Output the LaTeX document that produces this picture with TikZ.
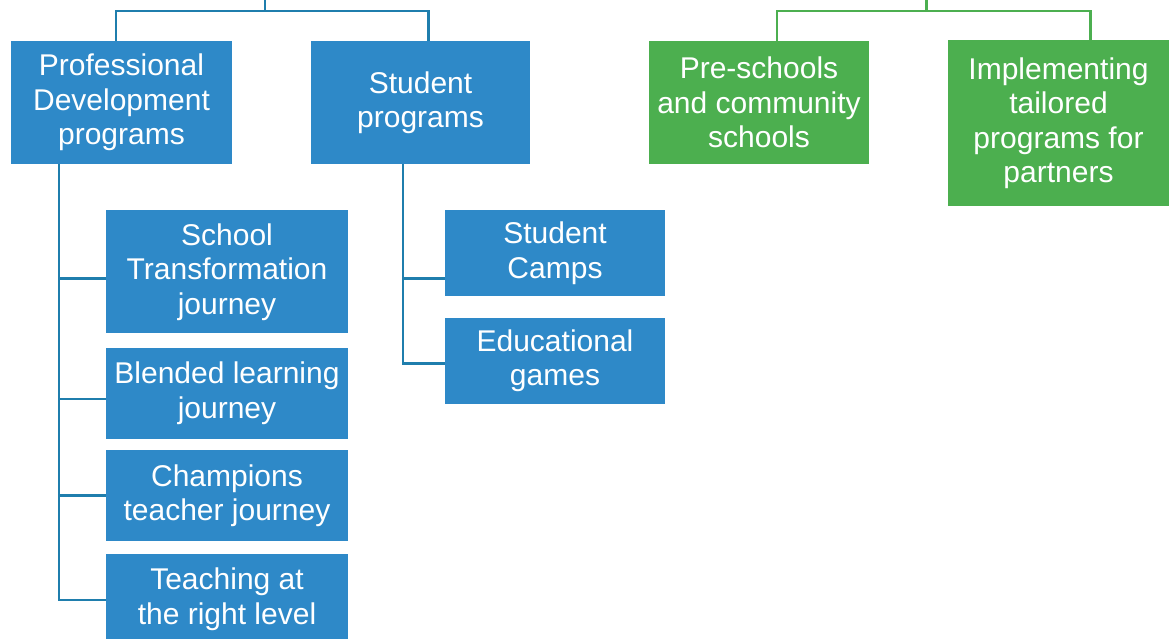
\documentclass[tikz,border=0pt]{standalone}
\usepackage{fontspec}
\setmainfont{Liberation Sans}
\usetikzlibrary{positioning}
\definecolor{boxblue}{HTML}{2E89C8}
\definecolor{lineblue}{HTML}{1F7EAD}
\definecolor{boxgreen}{HTML}{4CAF4F}
\definecolor{linegreen}{HTML}{4CAF50}

\begin{document}
\begin{tikzpicture}[x=1pt, y=1pt,
		basic/.style      = {rectangle, inner sep=0pt, align=center, text=white, font=\fontsize{30}{34.5}\selectfont},
		blue box/.style   = {basic, fill=boxblue, minimum width=221pt, minimum height=123pt},
		green box/.style  = {basic, fill=boxgreen, minimum width=221pt, minimum height=123pt},
		kid box/.style    = {basic, fill=boxblue, minimum height=91pt},
		blue link/.style  = {draw=lineblue, line width=2.6pt},
		green link/.style = {draw=linegreen, line width=2.6pt}]
		
		\useasboundingbox (0,0) rectangle (1169,-638);
		
		% the first level, one row of boxes
		\node[blue box] (pd) at (121.5,-102.5) {Professional\\Development\\programs};
		\node[blue box, minimum width=219pt] (sp) at (420.5,-102.5) {Student\\programs};
		\node[green box, minimum width=220pt] (ps) at (759,-102.5) {Pre-schools\\and community\\schools};
		\node[green box, minimum height=166pt] (ip) at (1058.5,-123) {Implementing\\tailored\\programs for\\partners};
		
		% the second level, relatively positioned nodes
		\begin{scope}[every node/.style={kid box, minimum width=242pt}]
			\node[minimum height=123pt, anchor=north west] (st) at ([shift={(95,-46)}]pd.south west) {School\\Transformation\\journey};
			\node[below=14pt of st] (bl) {Blended learning\\journey};
			\node[below=11pt of bl] (ch) {Champions\\teacher journey};
			\node[below=12pt of ch] (tr) {Teaching at\\the right level};
		\end{scope}
		
		% the second level, relatively positioned nodes
		\begin{scope}[every node/.style={kid box, minimum width=220pt, minimum height=86pt}]
			\node[anchor=north west] (sc) at ([shift={(134,-46)}]sp.south west) {Student\\Camps};
			\node[below=21pt of sc] (eg) {Educational\\games};
		\end{scope}
		
		% forks coming in from above
		\coordinate (blue top) at (265,0);
		\coordinate (blue fork) at (265,-11);
		\coordinate (green top) at (926.5,0);
		\coordinate (green fork) at (926.5,-11);
		
		\draw[blue link] (blue top) -- (blue fork);
		\draw[blue link] (blue fork) -| ([xshift=-5.5pt]pd.north);
		\draw[blue link] (blue fork) -| ([xshift=8pt]sp.north);
		
		\draw[green link] (green top) -- (green fork);
		\draw[green link] (green fork) -| ([xshift=18pt]ps.north);
		\draw[green link] (green fork) -| ([xshift=32pt]ip.north);
		
		% lines from each first level node to every one of its children
		\foreach \kid/\dy in {st/-6.5, bl/-5.5, ch/0, tr/-1}
		\draw[blue link] ([xshift=-62.5pt]pd.south) |- ([yshift=\dy pt]\kid.west);
		
		\foreach \kid/\dy in {sc/-25, eg/-2.5}
		\draw[blue link] ([xshift=-17.5pt]sp.south) |- ([yshift=\dy pt]\kid.west);
		
	\end{tikzpicture}
\end{document}
